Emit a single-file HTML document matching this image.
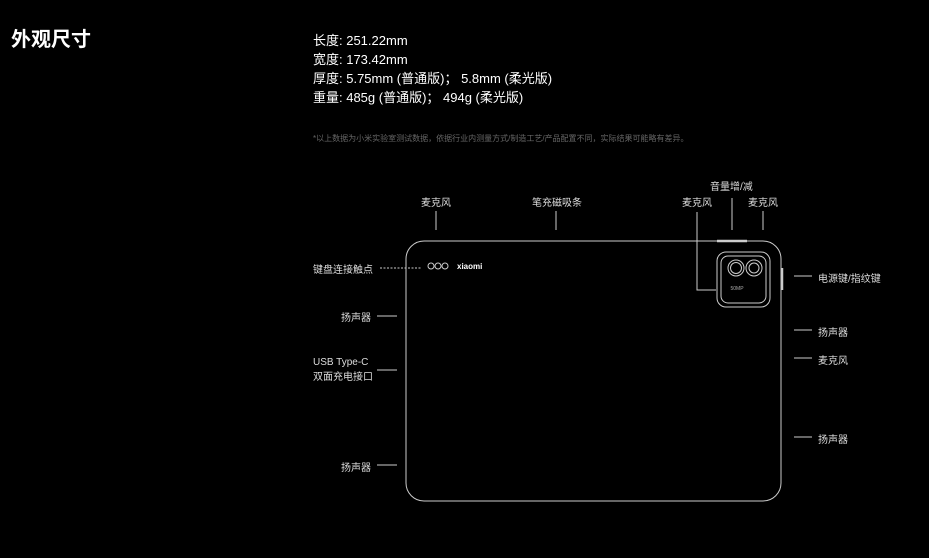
<!DOCTYPE html><html><head><meta charset="utf-8"><style>
body{margin:0;width:929px;height:558px;background:#000;overflow:hidden;font-family:"Liberation Sans","Noto Sans CJK SC",sans-serif;color:#fff;position:relative}
.a{position:absolute;white-space:nowrap}
.s{font-size:10px;color:#ddd}
</style></head><body>
<div class="a" style="left:11px;top:23px;font-size:20px;font-weight:bold">外观尺寸</div>
<div class="a" style="left:313px;top:31px;font-size:13px;line-height:19px">长度: 251.22mm<br>宽度: 173.42mm<br>厚度: 5.75mm (普通版)； 5.8mm (柔光版)<br>重量: 485g (普通版)； 494g (柔光版)</div>
<div class="a" style="left:313px;top:133px;font-size:8px;color:#666">*以上数据为小米实验室测试数据，依据行业内测量方式/制造工艺/产品配置不同，实际结果可能略有差异。</div>
<svg class="a" style="left:0;top:0" width="929" height="558">
<g stroke="#ccc" fill="none" stroke-width="1">
<rect x="406" y="241" width="375" height="260" rx="18"/>
<line x1="717" y1="241" x2="747" y2="241" stroke-width="2.5"/>
<line x1="782" y1="268" x2="782" y2="290" stroke-width="2.5"/>
<rect x="717" y="252" width="53" height="55" rx="9"/>
<rect x="721" y="256" width="45" height="47" rx="7"/>
<circle cx="736" cy="268" r="8"/><circle cx="736" cy="268" r="5.5"/>
<circle cx="754" cy="268" r="8"/><circle cx="754" cy="268" r="5"/>
<circle cx="431" cy="266" r="3"/><circle cx="438" cy="266" r="3"/><circle cx="445" cy="266" r="3"/>
<line x1="436" y1="211" x2="436" y2="230"/>
<line x1="556" y1="211" x2="556" y2="230"/>
<line x1="732" y1="198" x2="732" y2="230"/>
<line x1="763" y1="211" x2="763" y2="230"/>
<polyline points="697,212 697,290 716,290"/>
<line x1="380" y1="268" x2="421" y2="268" stroke-dasharray="2,1.5"/>
<line x1="377" y1="316" x2="397" y2="316"/>
<line x1="377" y1="370" x2="397" y2="370"/>
<line x1="377" y1="465" x2="397" y2="465"/>
<line x1="794" y1="276" x2="812" y2="276"/>
<line x1="794" y1="330" x2="812" y2="330"/>
<line x1="794" y1="358" x2="812" y2="358"/>
<line x1="794" y1="437" x2="812" y2="437"/>
</g>
<text x="457" y="269" fill="#fff" font-size="8" font-weight="bold" font-family="Liberation Sans">xiaomi</text>
<text x="737" y="290" fill="#aaa" font-size="5" text-anchor="middle" font-family="Liberation Sans">50MP</text>
</svg>
<div class="a s" style="left:421px;top:194px">麦克风</div>
<div class="a s" style="left:532px;top:194px">笔充磁吸条</div>
<div class="a s" style="left:710px;top:178px">音量增/减</div>
<div class="a s" style="left:682px;top:194px">麦克风</div>
<div class="a s" style="left:748px;top:194px">麦克风</div>
<div class="a s" style="left:313px;top:261px">键盘连接触点</div>
<div class="a s" style="left:341px;top:309px">扬声器</div>
<div class="a s" style="left:313px;top:355px;line-height:15px">USB Type-C<br>双面充电接口</div>
<div class="a s" style="left:341px;top:459px">扬声器</div>
<div class="a s" style="left:818px;top:270px">电源键/指纹键</div>
<div class="a s" style="left:818px;top:324px">扬声器</div>
<div class="a s" style="left:818px;top:352px">麦克风</div>
<div class="a s" style="left:818px;top:431px">扬声器</div>
</body></html>
